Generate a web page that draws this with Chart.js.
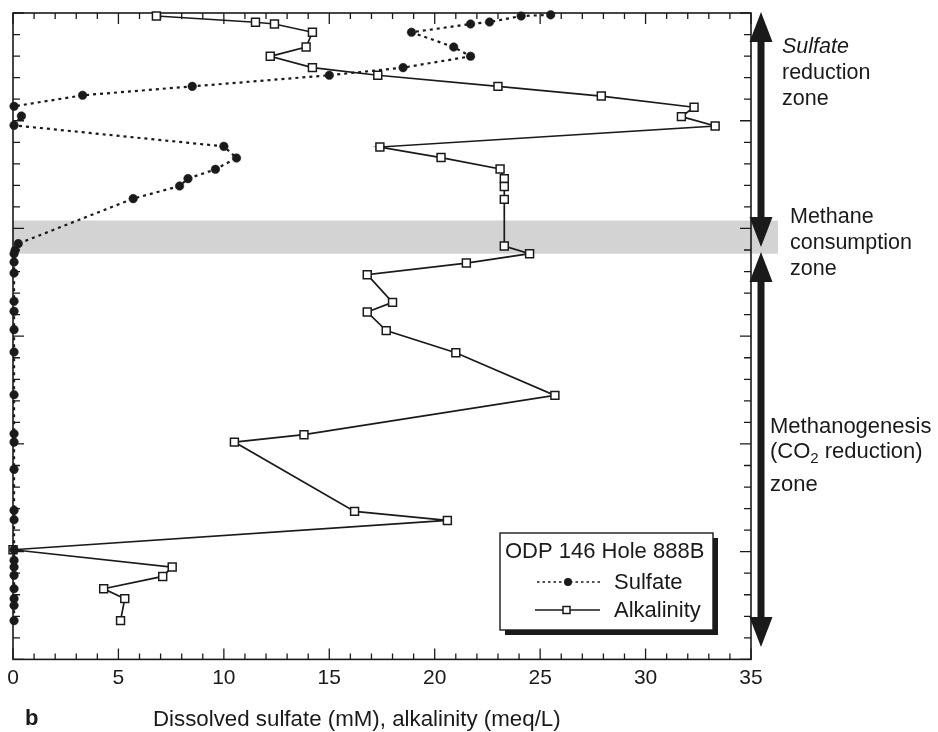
<!DOCTYPE html>
<html>
<head>
<meta charset="utf-8">
<title>ODP 146 Hole 888B - sulfate and alkalinity</title>
<script src="https://cdn.jsdelivr.net/npm/chart.js@4/dist/chart.umd.min.js"></script>
<style>
  html, body { margin: 0; padding: 0; background: #fff; }
  canvas { display: block; }
</style>
</head>
<body>
<canvas id="chart" width="938" height="732"></canvas>
<script>
/* =========================================
   DATA (depth in mbsf)
========================================= */
const sulfateDepth = [1.7, 2.8, 8.4, 10.2, 17.9, 31.6, 40.2, 50.7, 57.8, 68.1,
  76.4, 86.6, 95.6, 104.3, 123.8, 134.6, 145.1, 153.7, 160.6, 172.3,
  214.1, 220.3, 223.4, 231.2, 241.4, 267.6, 276.9, 293.9, 314.7, 354.3,
  390.5, 398.3, 423.6, 461.7, 470.3, 498.2, 508.1, 514.3, 522.0, 534.4,
  543.6, 549.9, 564.0];
const sulfate = [25.5, 24.1, 22.6, 21.7, 18.9, 20.9, 21.7, 18.5, 15.0, 8.5,
  3.3, 0.05, 0.4, 0.05, 10.0, 10.6, 9.6, 8.3, 7.9, 5.7,
  0.25, 0.1, 0.05, 0.05, 0.05, 0.05, 0.05, 0.05, 0.05, 0.05,
  0.05, 0.05, 0.05, 0.05, 0.05, 0.05, 0.05, 0.05, 0.05, 0.05,
  0.05, 0.05, 0.05];

const alkDepth = [2.8, 8.6, 10.2, 17.9, 31.6, 40.2, 50.7, 57.8, 68.1, 77.1,
  87.5, 96.2, 104.9, 124.4, 134.2, 144.8, 153.7, 161.0, 173.0, 216.3,
  223.4, 232.1, 242.9, 268.6, 277.6, 294.8, 315.3, 354.9, 391.4, 398.3,
  462.6, 471.0, 498.2, 514.3, 523.0, 534.4, 543.6, 564.0];
const alkalinity = [6.8, 11.5, 12.4, 14.2, 13.9, 12.2, 14.2, 17.3, 23.0, 27.9,
  32.3, 31.7, 33.3, 17.4, 20.3, 23.1, 23.3, 23.3, 23.3, 23.3,
  24.5, 21.5, 16.8, 18.0, 16.8, 17.7, 21.0, 25.7, 13.8, 10.5,
  16.2, 20.6, 0.0, 7.55, 7.1, 4.3, 5.3, 5.1];

const xTicks = [0, 5, 10, 15, 20, 25, 30, 35];
const depthRange = [0, 600];
const methaneZone = [192.6, 223.4];
const sulfateZone = [0, 217.2];
const methanogenesisZone = [221.9, 588.6];

/* =========================================
   DRAWING HELPERS
========================================= */
const FONT = "'Liberation Sans', Arial, Helvetica, sans-serif";
const INK = "#1a1a1a";

function pts(xs, ys) {
  return xs.map((v, i) => ({ x: v, y: ys[i] }));
}

function arrow(ctx, cx, yA, yB) {
  const hw = 11.5, hl = 30;
  ctx.fillStyle = INK;
  ctx.fillRect(cx - 3.5, yA + hl - 2, 7, (yB - yA) - 2 * hl + 4);
  ctx.beginPath();
  ctx.moveTo(cx, yA); ctx.lineTo(cx + hw, yA + hl); ctx.lineTo(cx - hw, yA + hl);
  ctx.closePath();
  ctx.moveTo(cx, yB); ctx.lineTo(cx + hw, yB - hl); ctx.lineTo(cx - hw, yB - hl);
  ctx.closePath();
  ctx.fill();
}

const decor = {
  id: "decor",
  beforeDatasetsDraw(chart) {
    const { ctx, chartArea: a, scales: { x, y } } = chart;
    ctx.save();

    // methane consumption zone band
    const y0 = y.getPixelForValue(methaneZone[0]);
    const y1 = y.getPixelForValue(methaneZone[1]);
    ctx.fillStyle = "#d3d3d3";
    ctx.fillRect(a.left, y0, a.right - a.left + 27, y1 - y0);

    // frame
    ctx.strokeStyle = INK;
    ctx.lineWidth = 1.6;
    ctx.strokeRect(a.left, a.top, a.right - a.left, a.bottom - a.top);

    // inward ticks on all four sides
    ctx.lineWidth = 1.3;
    ctx.beginPath();
    for (let v = 0; v <= 35; v++) {
      const px = x.getPixelForValue(v);
      const len = v % 5 === 0 ? 11 : 6;
      ctx.moveTo(px, a.bottom); ctx.lineTo(px, a.bottom - len);
      ctx.moveTo(px, a.top); ctx.lineTo(px, a.top + len);
    }
    for (let d = depthRange[0]; d <= depthRange[1]; d += 20) {
      const py = y.getPixelForValue(d);
      const len = d % 100 === 0 ? 11 : 7;
      ctx.moveTo(a.left, py); ctx.lineTo(a.left + len, py);
      ctx.moveTo(a.right, py); ctx.lineTo(a.right - len, py);
    }
    ctx.stroke();
    ctx.restore();
  },
  afterDraw(chart) {
    const { ctx, chartArea: a, scales: { y } } = chart;
    ctx.save();

    // zone arrows
    const cx = a.right + 10;
    arrow(ctx, cx, y.getPixelForValue(sulfateZone[0]) - 1, y.getPixelForValue(sulfateZone[1]));
    arrow(ctx, cx, y.getPixelForValue(methanogenesisZone[0]), y.getPixelForValue(methanogenesisZone[1]));

    // zone labels
    ctx.fillStyle = INK;
    ctx.textBaseline = "alphabetic";
    ctx.textAlign = "left";
    ctx.font = "italic 21.5px " + FONT;
    ctx.fillText("Sulfate", 782, 53);
    ctx.font = "21.5px " + FONT;
    ctx.fillText("reduction", 782, 79);
    ctx.fillText("zone", 782, 105);

    ctx.fillText("Methane", 790, 223);
    ctx.fillText("consumption", 790, 249);
    ctx.fillText("zone", 790, 275);

    ctx.font = "22px " + FONT;
    ctx.fillText("Methanogenesis", 770, 433);
    let tx = 770;
    ctx.fillText("(CO", tx, 458);
    tx += ctx.measureText("(CO").width;
    ctx.font = "15px " + FONT;
    ctx.fillText("2", tx, 463);
    tx += ctx.measureText("2").width;
    ctx.font = "22px " + FONT;
    ctx.fillText(" reduction)", tx, 458);
    ctx.fillText("zone", 770, 491);

    // legend box with drop shadow
    const lx = 500, ly = 533, lw = 213, lh = 97;
    ctx.fillStyle = INK;
    ctx.fillRect(lx + 5, ly + 5, lw, lh);
    ctx.fillStyle = "#fff";
    ctx.fillRect(lx, ly, lw, lh);
    ctx.strokeStyle = INK;
    ctx.lineWidth = 1.4;
    ctx.strokeRect(lx, ly, lw, lh);

    ctx.fillStyle = INK;
    ctx.font = "22px " + FONT;
    ctx.fillText("ODP 146 Hole 888B", 505, 558);
    ctx.fillText("Sulfate", 614, 589);
    ctx.fillText("Alkalinity", 614, 617);

    // sulfate sample
    ctx.lineWidth = 1.5;
    ctx.setLineDash([2.5, 3]);
    ctx.beginPath();
    ctx.moveTo(537, 582); ctx.lineTo(601, 582);
    ctx.stroke();
    ctx.setLineDash([]);
    ctx.beginPath();
    ctx.arc(568, 582, 4, 0, Math.PI * 2);
    ctx.fill();

    // alkalinity sample
    ctx.beginPath();
    ctx.moveTo(535, 610); ctx.lineTo(600, 610);
    ctx.stroke();
    ctx.fillStyle = "#fff";
    ctx.fillRect(563, 606.5, 7, 7);
    ctx.strokeRect(563, 606.5, 7, 7);

    // panel letter and axis title
    ctx.fillStyle = INK;
    ctx.font = "bold 22px " + FONT;
    ctx.fillText("b", 25, 725);
    ctx.font = "22.3px " + FONT;
    ctx.fillText("Dissolved sulfate (mM), alkalinity (meq/L)", 153, 726);

    ctx.restore();
  }
};

/* =========================================
   CHART
========================================= */
new Chart(document.getElementById("chart"), {
  type: "scatter",
  data: {
    datasets: [
      {
        label: "Sulfate",
        data: pts(sulfate, sulfateDepth),
        showLine: true,
        borderColor: INK,
        borderWidth: 2.2,
        borderDash: [3, 4],
        pointStyle: "circle",
        pointRadius: 4.3,
        pointBackgroundColor: INK,
        pointBorderColor: INK,
        pointBorderWidth: 0.5,
        clip: false
      },
      {
        label: "Alkalinity",
        data: pts(alkalinity, alkDepth),
        showLine: true,
        borderColor: INK,
        borderWidth: 1.7,
        pointStyle: "rect",
        pointRadius: 5.6,
        pointBackgroundColor: "#fff",
        pointBorderColor: INK,
        pointBorderWidth: 1.5,
        clip: false
      }
    ]
  },
  options: {
    responsive: false,
    animation: false,
    layout: { padding: { left: 13, right: 187, top: 13, bottom: 35.4 } },
    plugins: {
      legend: { display: false },
      tooltip: { enabled: false }
    },
    scales: {
      x: {
        type: "linear",
        position: "bottom",
        min: 0,
        max: 35,
        afterBuildTicks: (s) => { s.ticks = xTicks.map(v => ({ value: v })); },
        grid: { display: false, drawTicks: false },
        border: { display: false },
        ticks: {
          padding: 6,
          color: INK,
          font: { family: FONT, size: 21 }
        }
      },
      y: {
        type: "linear",
        display: false,
        reverse: true,
        min: depthRange[0],
        max: depthRange[1]
      }
    }
  },
  plugins: [decor]
});
</script>
</body>
</html>
